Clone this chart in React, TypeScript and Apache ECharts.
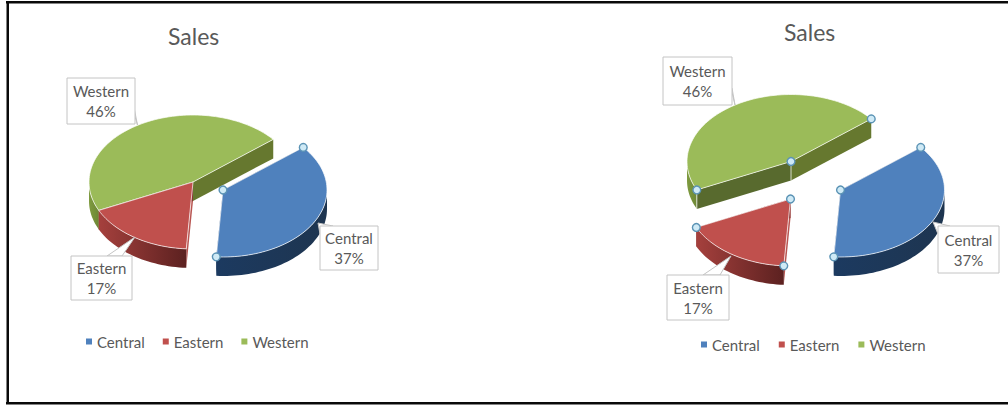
import React, { useEffect, useRef } from "react";
import * as echarts from "echarts";

// Regional sales shares, drawn twice: with one slice pulled out and with all slices pulled out.
const regions = ["Central", "Eastern", "Western"];
const salesShare = [37, 17, 46];
const topColors = ["#4F81BD", "#C0504D", "#9BBB59"];
const wallLeft = ["#1C3A60", "#A5403D", "#7F9B40"];
const wallRight = ["#1E3550", "#5C2120", "#6D8735"];
const chartTitle = "Sales";

const START_ANGLE = 50.5;
const RX = 104;
const RY = 67;
const DEPTH = 19;
const INK = "#595959";
const FONT = "Lato";

type Pt = [number, number];

// Projected position on the tilted disc; angle is clockwise from 12 o'clock.
const onRim = (apex: Pt, deg: number, drop = 0): Pt => {
  const r = (deg * Math.PI) / 180;
  return [apex[0] + RX * Math.sin(r), apex[1] - RY * Math.cos(r) + drop];
};

const arcPoints = (apex: Pt, from: number, to: number, drop = 0): Pt[] => {
  const n = Math.max(2, Math.ceil(Math.abs(to - from) / 2));
  return Array.from({ length: n + 1 }, (_, i) => onRim(apex, from + ((to - from) * i) / n, drop));
};

const sliceSpan = (index: number) => {
  const total = salesShare.reduce((a, b) => a + b, 0);
  const before = salesShare.slice(0, index).reduce((a, b) => a + b, 0);
  const from = START_ANGLE + (before / total) * 360;
  return [from, from + (salesShare[index] / total) * 360];
};

const handle = (p: Pt) => ({
  type: "circle",
  shape: { cx: p[0], cy: p[1], r: 3.9 },
  style: { fill: "#CFEAF6", stroke: "#5B93B5", lineWidth: 1.4 },
});

const edge = (p: Pt, q: Pt) => ({
  type: "line",
  shape: { x1: p[0], y1: p[1], x2: q[0], y2: q[1] },
  style: { stroke: "rgba(255,255,255,0.75)", lineWidth: 1 },
});

const makeSlice = (
  index: number,
  apex: Pt,
  withHandles: boolean,
  cutColors: [string, string],
  showEdges = false,
) => ({
  type: "custom",
  name: regions[index],
  coordinateSystem: "none",
  itemStyle: { color: topColors[index] },
  data: [[salesShare[index]]],
  silent: true,
  renderItem: () => {
    const [from, to] = sliceSpan(index);
    const children: any[] = [];

    // Flat cut faces sit behind the top surface, so only the part below it shows.
    const a = onRim(apex, from);
    const b = onRim(apex, to);
    const lowered: Pt = [apex[0], apex[1] + DEPTH];
    children.push({
      type: "polygon",
      shape: { points: [apex, a, onRim(apex, from, DEPTH), lowered] },
      style: { fill: cutColors[0] },
    });
    children.push({
      type: "polygon",
      shape: { points: [apex, b, onRim(apex, to, DEPTH), lowered] },
      style: { fill: cutColors[1] },
    });

    // Outer wall, limited to the front half of the disc.
    const wallFrom = Math.max(from, 90);
    const wallTo = Math.min(to, 270);
    if (wallTo > wallFrom) {
      const ahead = arcPoints(apex, wallFrom, wallTo);
      const below = arcPoints(apex, wallFrom, wallTo, DEPTH).reverse();
      children.push({
        type: "polygon",
        shape: { points: [...ahead, ...below] },
        style: {
          fill: new echarts.graphic.LinearGradient(0, 0, 1, 0, [
            { offset: 0, color: wallLeft[index] },
            { offset: 1, color: wallRight[index] },
          ]),
        },
      });
    }

    // Vertical creases where the faces of a detached slice meet.
    if (showEdges) {
      children.push(edge(apex, lowered), edge(a, onRim(apex, from, DEPTH)));
    }

    children.push({
      type: "polygon",
      shape: { points: [apex, ...arcPoints(apex, from, to)] },
      style: { fill: topColors[index], stroke: "rgba(255,255,255,0.7)", lineWidth: 1 },
    });

    if (withHandles) children.push(handle(apex), handle(a), handle(b));
    return { type: "group", children };
  },
});

// A white data label box with its pointer and two centred lines of text.
const callout = (
  index: number,
  box: [number, number, number, number],
  pointer: Pt[],
) => {
  const [x, y, w, h] = box;
  const cx = x + w / 2;
  const cy = y + h / 2;
  const text = (content: string, ty: number) => ({
    type: "text",
    z: 103,
    style: {
      text: content,
      x: cx,
      y: ty,
      align: "center",
      verticalAlign: "middle",
      fill: INK,
      font: `15px ${FONT}`,
    },
  });
  return [
    {
      type: "polygon",
      z: 100,
      shape: { points: pointer },
      style: { fill: "#FFFFFF", stroke: "#C4C4C4", lineWidth: 1 },
    },
    {
      type: "rect",
      z: 101,
      shape: { x, y, width: w, height: h },
      style: { fill: "#FFFFFF", stroke: "#C4C4C4", lineWidth: 1 },
    },
    text(regions[index], cy - 10),
    text(`${salesShare[index]}%`, cy + 10),
  ];
};

const legendFor = (left: number, top: number, itemGap: number) => ({
  left,
  top,
  orient: "horizontal",
  icon: "rect",
  itemWidth: 6,
  itemHeight: 6,
  itemGap,
  padding: 0,
  selectedMode: false,
  data: regions,
  textStyle: { color: INK, fontFamily: FONT, fontSize: 15, padding: [0, 0, 0, 0] },
});

const titleFor = (left: number, top: number) => ({
  text: chartTitle,
  left,
  top,
  padding: 0,
  textStyle: { color: INK, fontFamily: FONT, fontSize: 23, fontWeight: "normal" },
});

const frameBars = [
  { x: 6, y: 1, width: 1002, height: 2.5 },
  { x: 6.5, y: 1, width: 2.5, height: 403 },
  { x: 6, y: 402, width: 1002, height: 2.5 },
];

export default function App() {
  const ref = useRef<HTMLDivElement>(null);

  useEffect(() => {
    document.body.style.margin = "0";
    const chart = echarts.init(ref.current!, undefined, { renderer: "svg" });

    const series = [
      // One slice pulled out
      makeSlice(2, [193, 182], false, ["#586A2E", "#66782F"]),
      makeSlice(1, [193, 182], false, ["#B85450", "#8A3533"]),
      makeSlice(0, [223, 190], true, ["#1C3A60", "#1C3A60"]),
      // Every slice pulled out
      makeSlice(2, [791, 161.5], true, ["#586A2E", "#66782F"], true),
      makeSlice(1, [790.5, 199], true, ["#B85450", "#8A3533"]),
      makeSlice(0, [840.5, 190], true, ["#1C3A60", "#1C3A60"]),
    ];

    chart.setOption({
      animation: false,
      backgroundColor: "#FFFFFF",
      title: [titleFor(168, 24), titleFor(784, 20)],
      legend: [legendFor(86, 334, 18), legendFor(701, 337, 19)],
      series,
      graphic: {
        elements: [
          ...frameBars.map((shape) => ({
            type: "rect",
            z: 120,
            shape,
            style: { fill: "#0A0A0A" },
          })),
          ...callout(2, [67, 78, 68, 46], [[133, 110], [137.5, 125], [134.5, 110]]),
          ...callout(1, [71, 256, 61, 44], [[135, 237], [107, 256], [122, 256]]),
          ...callout(0, [320, 226, 58, 44], [[318, 223], [333, 226], [320, 234]]),
          ...callout(2, [663, 57, 69, 48], [[731, 88], [735, 105], [732, 88]]),
          ...callout(1, [667, 275, 62, 45], [[731, 256], [703, 275], [720, 275]]),
          ...callout(0, [938, 226, 61, 47], [[933, 222], [950, 226], [938, 234]]),
        ],
      },
    });

    return () => chart.dispose();
  }, []);

  return <div ref={ref} style={{ position: "fixed", left: 0, top: 0, width: 1008, height: 405 }} />;
}
